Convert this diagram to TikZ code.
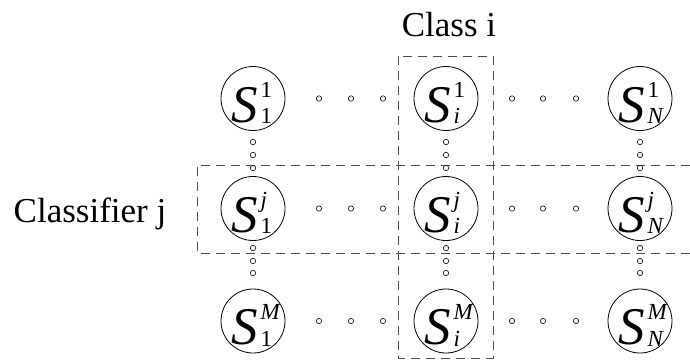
\documentclass[tikz,border=0pt]{standalone}
\usepackage{fontspec}
\setmainfont{Liberation Serif}
\usepackage{tikz}
\usetikzlibrary{calc}
\definecolor{rahmengrau}{rgb}{0.3,0.3,0.3}

% grosses S mit hoch- und tiefgestelltem Index
\newcommand{\sname}[2]{\smash{\raisebox{-23.5pt}{\fontsize{53}{53}\selectfont\itshape S\kern2.5pt\upshape\fontsize{23}{23}\selectfont\makebox[14pt][l]{\rlap{\raisebox{25pt}{#1}}\raisebox{-1.5pt}{#2}}}}}

\begin{document}
\begin{tikzpicture}
     [
     x=1pt, y=-1pt,
     zelle/.style = {draw, circle, minimum size=64pt, inner sep=0pt, line width=0.8pt},
     punkt/.style = {draw, fill=white, line width=0.6pt},
     rahmen/.style = {draw=rahmengrau, line width=0.85pt, dash pattern=on 9pt off 6pt},
     titel/.style = {anchor=base, font=\fontsize{35}{35}\selectfont}
     ]

     \useasboundingbox (0,0) rectangle (690,360);

     % gestrichelte Rahmen
     \draw[rahmen] (398,56) rectangle (493,358);
     \draw[rahmen] (690,165) -- (197,165) -- (197,253) -- (690,253);

     % Punkte
     \foreach \y in {98.5,208.5,321} {
       \foreach \x in {319,351,383,512,543,576}
         \draw[punkt] (\x,\y) circle (2.7pt);
     }
     \foreach \x in {253,446,640} {
       \foreach \y in {142,155,168,248,261,273}
         \draw[punkt] (\x,\y) circle (2.7pt);
     }

     \draw (253,98.5) node[zelle] (s11) {\sname{1}{1}}
           (446,98.5) node[zelle] (si1) {\sname{1}{\textit{i}}}
           (640,98.5) node[zelle] (sn1) {\sname{1}{\textit{N}}}
           (253,208.5) node[zelle] (s1j) {\sname{\textit{j}}{1}}
           (446,208.5) node[zelle] (sij) {\sname{\textit{j}}{\textit{i}}}
           (640,208.5) node[zelle] (snj) {\sname{\textit{j}}{\textit{N}}}
           (253,321) node[zelle] (s1m) {\sname{\textit{M}}{1}}
           (446,321) node[zelle] (sim) {\sname{\textit{M}}{\textit{i}}}
           (640,321) node[zelle] (snm) {\sname{\textit{M}}{\textit{N}}}
     ;

     \path (449,36) node[titel] (klasse) {Class i}
           (90,222) node[titel] (klassifikator) {Classifier j};
\end{tikzpicture}
\end{document}
